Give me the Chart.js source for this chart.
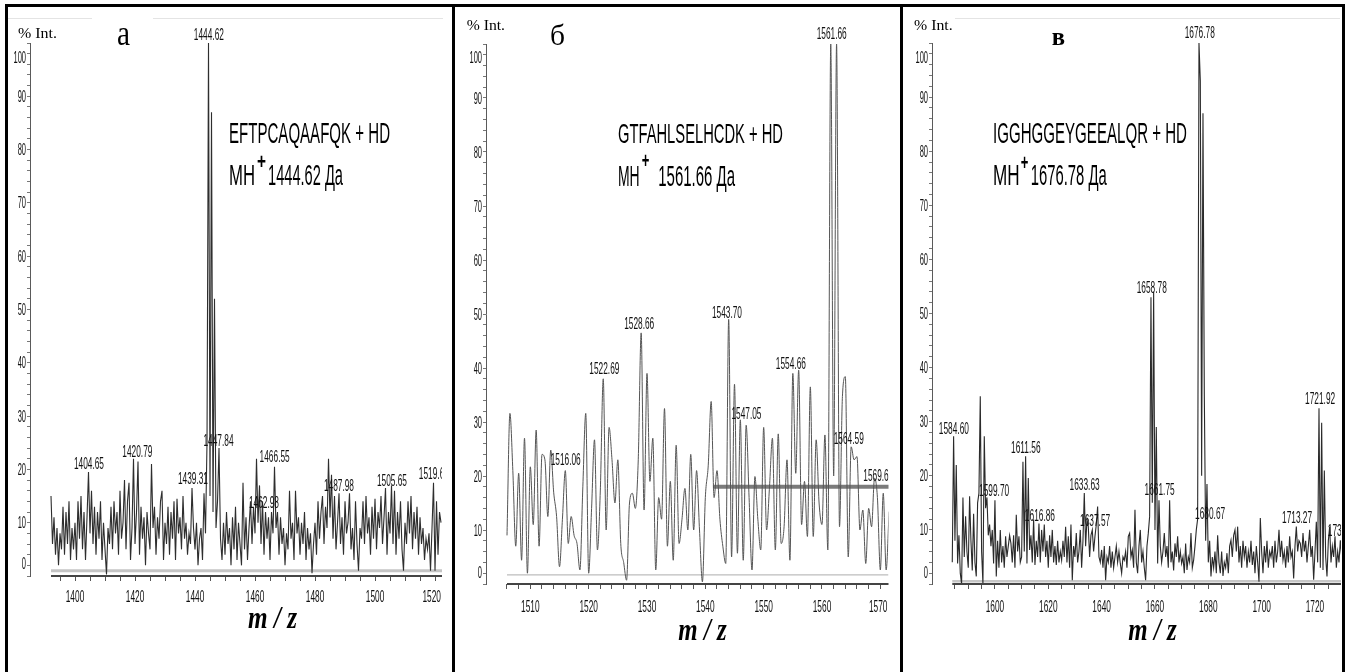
<!DOCTYPE html>
<html lang="ru">
<head>
<meta charset="utf-8">
<title>Масс-спектры пептидов</title>
<script src="https://cdn.jsdelivr.net/npm/chart.js@4.4.1/dist/chart.umd.min.js"></script>
<style>
  body { margin: 0; background: #fff; }
  #wrap { position: relative; width: 1347px; height: 672px; overflow: hidden; background: #fff; }
  .rule { position: absolute; background: #000; }
  .faint { position: absolute; height: 1px; background: #e4e4e4; }
  canvas { position: absolute; }
</style>
</head>
<body>
<div id="wrap">
  <div class="faint" style="left:8px;top:18px;width:84px"></div>
  <div class="faint" style="left:153px;top:18px;width:290px"></div>
  <div class="faint" style="left:955px;top:18px;width:385px"></div>
  <canvas id="panelA" width="442" height="665" style="left:9px;top:7px"></canvas>
  <canvas id="panelB" width="445" height="665" style="left:455px;top:7px"></canvas>
  <canvas id="panelC" width="439" height="665" style="left:903px;top:7px"></canvas>
  <div class="rule" style="left:5px;top:4px;width:1340px;height:3px"></div>
  <div class="rule" style="left:5px;top:4px;width:3px;height:668px"></div>
  <div class="rule" style="left:452px;top:4px;width:3px;height:668px"></div>
  <div class="rule" style="left:900px;top:4px;width:3px;height:668px"></div>
  <div class="rule" style="left:1342px;top:4px;width:3px;height:668px"></div>
</div>
<script>
// ---- panel а: EFTPCAQAAFQK + HD, sampled every 0.5 m/z from 1392 ----
const mzStartA = 1392;
const mzStepA = 0.5;
const intensityA = [
  15, 6, 11, 4, 9, 2, 8, 5, 13, 4,
  12, 6, 14, 3, 9, 5, 10, 3, 14, 7,
  15, 5, 12, 3, 11, 19.5, 8, 16, 6, 13,
  4, 12, 7, 14, 3, 10, 5, 0.3, 9, 6,
  13, 5, 14, 8, 12, 4, 16, 7, 10, 18,
  5, 14, 17.5, 3, 9, 22, 6, 12, 21.5, 4,
  13, 7, 11, 2, 12, 8, 5, 21, 9, 13,
  4, 11, 7, 14, 16, 3, 10, 6, 13, 4,
  12, 7, 14, 3, 14.5, 8, 11, 5, 15, 7,
  10, 4, 8, 6, 16.5, 9, 5, 10, 2, 7,
  9, 3, 15.5, 8, 25, 100, 15, 87, 12, 52,
  9, 14, 24, 7, 3, 10, 4, 12, 6, 9,
  2, 11, 5, 13, 3, 10, 6, 2, 17.5, 5,
  11, 3, 9, 14, 6, 13, 8, 22, 10, 17,
  6, 14, 4, 12, 7, 11, 3, 12, 8, 20.5,
  9, 12, 4, 11, 6, 9, 2, 8, 5, 16,
  7, 10, 3, 16, 8, 11, 4, 10, 6, 12,
  3, 9, 5, 8, 0.5, 6, 10, 4, 14, 7,
  12, 15, 6, 13, 9, 22, 11, 19, 7, 15,
  5, 10, 15.5, 6, 11, 4, 14, 8, 10, 15.5,
  5, 9, 3, 14, 6, 1, 9, 7, 14, 6,
  15, 8, 11, 4, 13, 7, 14.5, 5, 12, 9,
  15, 6, 11, 16.5, 4, 12, 8, 17, 6, 16,
  4, 12, 7, 14, 5, 1, 10, 6, 14, 8,
  15, 5, 12, 7, 13, 4, 11, 6, 9, 3,
  7, 5, 8, 1, 9, 17.5, 1, 14, 4, 12,
  10
];
const peakMzA = [1444.62, 1404.65, 1420.79, 1439.31, 1447.84, 1462.98, 1466.55, 1487.98, 1505.65, 1519.62];
const peakIntA = [100.5, 20.1, 22.3, 17.3, 24.4, 12.8, 21.4, 16.0, 16.9, 18.2];
const xTicksA = [1400, 1420, 1440, 1460, 1480, 1500, 1520];
const baseLevelA = 1.0;

// ---- panel б: GTFAHLSELHCDK + HD, sampled every 0.5 m/z from 1506 ----
const mzStartB = 1506;
const mzStepB = 0.5;
const intensityB = [
  9, 31.6, 21, 7, 20.5, 4.4, 27, 2, 21.7, 11,
  28.5, 7, 24, 23, 12.5, 24.8, 17, 12.5, 3.2, 12,
  21, 7.5, 12.5, 9, 7.5, 2.6, 18, 31.6, 2, 14,
  26.7, 6.3, 17.4, 38, 10, 29, 23, 15, 23, 7.5,
  4, 0.7, 15, 16.8, 14, 23, 46.5, 13.7, 39, 19,
  27, 2.6, 16, 12, 32.5, 7, 19, 4.4, 25.7, 7.5,
  12, 17.7, 10, 24, 10, 21, 10, 0.4, 16, 22,
  33.8, 16, 21, 12, 7, 3.8, 49, 5, 37, 5.7,
  30.4, 4.4, 29.4, 16, 2.6, 19.9, 12, 6.3, 29, 10,
  18, 27, 6.3, 27.8, 7.5, 10.6, 23, 4.4, 39, 20.5,
  39.6, 11, 19, 8.8, 36.5, 8.8, 26.7, 15, 11, 27.6,
  6.3, 100, 20, 100, 10.6, 34.7, 38.4, 5, 25.4, 23,
  23.6, 10, 13.7, 3.8, 14, 10.6, 19.6, 16, 2.6, 16.8,
  2.6, 13.4
];
const peakMzB = [1561.66, 1528.66, 1543.70, 1522.69, 1554.66, 1516.06, 1547.05, 1564.59, 1569.65];
const peakIntB = [100.9, 47.2, 49.3, 38.9, 39.8, 22, 30.5, 25.9, 19.1];
const xTicksB = [1510, 1520, 1530, 1540, 1550, 1560, 1570];
const thresholdMzB = [1541.3, 1571.5];
const thresholdIntB = [18, 18];
const baseLevelB = 1.7;

// ---- panel в: IGGHGGEYGEEALQR + HD, sampled every 0.5 m/z from 1584 ----
const mzStartC = 1584;
const mzStepC = 0.5;
const intensityC = [
  4, 27.3, 8, 22, 3.8, 9, 2, 0, 16, 5,
  12.5, 6, 3, 16.2, 8, 2.5, 13, 4, 1.4, 15,
  16.8, 34.7, 6, 0, 27.3, 14, 16, 9, 11, 7,
  10, 3.8, 15.5, 1.4, 8, 3, 10, 4, 7, 3,
  8.8, 5, 7, 9, 7.5, 4, 9, 3, 12.8, 6,
  8.8, 4, 5, 22.6, 6, 23.6, 3.8, 19.6, 6.3, 9,
  4, 11.9, 3.5, 8, 5, 11.2, 4, 10, 6, 11,
  5, 8, 3, 9, 5, 10, 4, 7, 3.5, 8,
  4, 6, 4.4, 8, 5, 10.6, 4, 8.8, 3, 11,
  0.7, 7, 5, 9.4, 4, 6, 10, 3, 8, 16.8,
  7, 12, 10.6, 5, 9, 10, 6, 8.8, 11, 14.3,
  5, 4, 6.3, 3, 7, 0.7, 5, 4, 7, 3,
  6, 3, 5, 7, 4, 6, 3.8, 2, 5, 4.4,
  6, 3, 8.8, 9.4, 5, 6.3, 3, 13.7, 4, 2,
  7, 10, 4, 6, 3, 0.7, 7, 9.4, 12.5, 53,
  15, 54, 10, 29, 3.8, 15.5, 7, 4, 6, 9.4,
  5, 7, 3, 15.5, 4, 6, 2.5, 7.5, 5, 8.8,
  4, 6, 3.8, 5, 2, 7.5, 2.6, 5, 4, 9.4,
  3, 4.4, 7, 10, 12, 100, 93, 20, 87, 35,
  8, 18.5, 4, 8, 1.4, 5, 3, 6, 2, 9,
  4, 2, 6, 1.5, 4, 3, 5.7, 2, 7, 8.1,
  5, 9, 10, 6, 10.6, 4, 7, 3, 8, 5,
  7, 3, 6, 4, 8, 3.5, 6, 2, 7, 4,
  0.4, 12.2, 6, 2, 7, 4, 8, 3, 6, 5,
  7, 3, 8, 4, 6, 10, 5, 8, 4.4, 6,
  3, 7, 4, 8.8, 5, 6, 1, 7, 10.6, 6,
  8, 7.5, 5, 9.4, 6, 8, 4, 7, 10, 5,
  7, 0.8, 6, 11.5, 4, 32.5, 3, 29.8, 2.6, 21,
  5, 1.4, 8, 10.6, 4, 7, 5, 8.8, 3, 6,
  4, 8.1, 5
];
const peakMzC = [1676.78, 1658.78, 1584.60, 1611.56, 1599.70, 1616.86, 1633.63, 1637.57, 1661.75, 1680.67, 1713.27, 1721.92, 1730.45];
const peakIntC = [100.9, 53.7, 27.8, 24.3, 16.3, 11.7, 17.4, 10.7, 16.5, 12, 11.3, 33.3, 8.9];
const xTicksC = [1600, 1620, 1640, 1660, 1680, 1700, 1720];
const baseLevelC = 0.5;

const yTicks = [0, 10, 20, 30, 40, 50, 60, 70, 80, 90, 100];

const SANS = '"Liberation Sans", Arial, sans-serif';
const SERIF = '"Liberation Serif", "Times New Roman", serif';
const TICK_FONT = '16px ' + SANS;

// the spectra were squeezed horizontally in the source figure, so text is squashed too
function sqText(ctx, txt, x, y, font, sx, align) {
    ctx.save();
    ctx.font = font;
    ctx.textBaseline = 'alphabetic';
    ctx.textAlign = 'left';
    const w = ctx.measureText(txt).width;
    const off = align === 'center' ? -w / 2 : align === 'right' ? -w : 0;
    ctx.translate(x, y);
    ctx.scale(sx, 1);
    ctx.fillText(txt, off, 0);
    ctx.restore();
    return w * sx;
}

function fitText(ctx, txt, x, y, font, width) {
    ctx.save();
    ctx.font = font;
    const w = ctx.measureText(txt).width;
    ctx.restore();
    sqText(ctx, txt, x, y, font, width / w, 'left');
}

function spectrumPlugin(p) {
    return {
        id: 'spectrum' + p.key,
        afterDraw(chart) {
            const ctx = chart.ctx;
            const area = chart.chartArea;
            const xs = chart.scales.x;
            const ys = chart.scales.y;
            ctx.save();

            // x axis line only under the recorded range
            ctx.strokeStyle = '#444';
            ctx.lineWidth = 2;
            ctx.beginPath();
            ctx.moveTo(xs.getPixelForValue(p.mzStart), area.bottom);
            ctx.lineTo(area.right, area.bottom);
            ctx.stroke();

            ctx.fillStyle = '#111';
            p.xTicks.forEach(v => {
                let px = xs.getPixelForValue(v);
                ctx.font = TICK_FONT;
                const half = ctx.measureText(String(v)).width * 0.26;
                if (px + half > area.right) px = area.right - half - 1;
                sqText(ctx, String(v), px, area.bottom + p.xLabelGap, TICK_FONT, 0.52, 'center');
            });
            yTicks.forEach(v => {
                let py = ys.getPixelForValue(v) + 5.5;
                if (v === 100) py += p.yTopShift;
                if (v === 0) py += p.yZeroShift;
                sqText(ctx, String(v), area.left - 4, py, TICK_FONT, 0.47, 'right');
            });

            // peak labels, cut at the right edge like the original
            ctx.save();
            ctx.beginPath();
            ctx.rect(area.left, 0, area.right - area.left, chart.height);
            ctx.clip();
            p.peakMz.forEach((mz, i) => {
                sqText(ctx, mz.toFixed(2), xs.getPixelForValue(mz), ys.getPixelForValue(p.peakInt[i]), TICK_FONT, 0.52, 'center');
            });
            ctx.restore();

            // peptide and mass
            const n = p.note;
            ctx.fillStyle = '#000';
            fitText(ctx, p.peptide, n.x, n.y1, n.size1 + 'px ' + SANS, n.w1);
            fitText(ctx, 'MH', n.x, n.y2, '30px ' + SANS, n.wMH);
            fitText(ctx, '+', n.xPlus, n.yPlus, 'bold 22px ' + SANS, n.wPlus);
            fitText(ctx, p.mass, n.xMass, n.y2, '30px ' + SANS, n.wMass);

            // captions from the document
            fitText(ctx, '% Int.', p.intLabel.x, p.intLabel.y, '15px ' + SERIF, p.intLabel.w);
            fitText(ctx, p.letter, p.letterPos.x, p.letterPos.y, p.letterFont, p.letterPos.w);
            fitText(ctx, 'm / z', p.mzPos.x, p.mzPos.y, 'bold italic 32px ' + SERIF, p.mzPos.w);
            ctx.restore();
        }
    };
}

function buildChart(p) {
    const trace = p.intensity.map((v, i) => ({ x: p.mzStart + i * p.mzStep, y: v }));
    const datasets = [{
        data: trace,
        borderColor: p.traceColor,
        borderWidth: p.traceWidth,
        pointRadius: 0,
        tension: p.smooth ? 0.4 : 0,
        cubicInterpolationMode: p.smooth ? 'monotone' : 'default'
    }];
    if (p.thrMz) {
        datasets.push({
            data: p.thrMz.map((x, i) => ({ x: x, y: p.thrInt[i] })),
            borderColor: '#7b7b7b',
            borderWidth: 4,
            pointRadius: 0
        });
    }
    datasets.push({
        data: [{ x: p.mzStart, y: p.baseLevel }, { x: p.xMax, y: p.baseLevel }],
        borderColor: p.baseColor,
        borderWidth: p.baseWidth,
        pointRadius: 0
    });

    const xTickColor = c => (c.tick && c.tick.value < p.mzStart) ? 'rgba(0,0,0,0)' : '#555';

    return new Chart(document.getElementById(p.canvas), {
        type: 'line',
        data: { datasets: datasets },
        options: {
            responsive: false,
            animation: false,
            events: [],
            devicePixelRatio: 1,
            layout: { padding: { left: 0, right: p.padRight, top: p.padTop, bottom: 0 } },
            plugins: { legend: { display: false }, tooltip: { enabled: false } },
            scales: {
                x: {
                    type: 'linear',
                    min: p.xMin,
                    max: p.xMax,
                    afterFit: s => { s.height = p.xAxisH; },
                    border: { display: false },
                    grid: { drawOnChartArea: false, drawTicks: true, tickLength: 5, color: xTickColor, tickColor: xTickColor },
                    ticks: { stepSize: p.xMinor, autoSkip: false, includeBounds: false, maxRotation: 0, minRotation: 0, font: { size: 6 }, callback: () => '' }
                },
                y: {
                    min: 0,
                    max: 100,
                    afterFit: s => { s.width = p.yAxisW; },
                    border: { display: true, color: '#5a5a5a', width: 1 },
                    grid: { drawOnChartArea: false, drawTicks: true, tickLength: 3, color: '#777', tickColor: '#777' },
                    ticks: { stepSize: 2, autoSkip: false, includeBounds: false, font: { size: 6 }, callback: () => '' }
                }
            }
        },
        plugins: [spectrumPlugin(p)]
    });
}

const panels = [
    {
        key: 'A', canvas: 'panelA',
        mzStart: mzStartA, mzStep: mzStepA, intensity: intensityA,
        peakMz: peakMzA, peakInt: peakIntA, xTicks: xTicksA,
        xMin: 1385, xMax: 1522.33, xMinor: 5,
        yAxisW: 21, padRight: 9, padTop: 36, xAxisH: 96,
        xLabelGap: 26, yTopShift: 14, yZeroShift: -13,
        traceColor: '#2e2e2e', traceWidth: 1.1, smooth: false,
        baseLevel: baseLevelA, baseColor: '#c4c4c4', baseWidth: 3,
        peptide: 'EFTPCAQAAFQK + HD', mass: '1444.62 Да',
        note: { x: 220, y1: 136, size1: 29, w1: 161, y2: 178, wMH: 26, xPlus: 248, yPlus: 162, wPlus: 9, xMass: 259, wMass: 75 },
        intLabel: { x: 9, y: 31, w: 39 },
        letter: 'а', letterFont: '36px ' + SERIF, letterPos: { x: 108, y: 38, w: 13 },
        mzPos: { x: 239, y: 621, w: 49 }
    },
    {
        key: 'B', canvas: 'panelB',
        mzStart: mzStartB, mzStep: mzStepB, intensity: intensityB,
        peakMz: peakMzB, peakInt: peakIntB, xTicks: xTicksB,
        thrMz: thresholdMzB, thrInt: thresholdIntB,
        xMin: 1502.4, xMax: 1571.4, xMinor: 2,
        yAxisW: 31, padRight: 11.5, padTop: 37, xAxisH: 88,
        xLabelGap: 28, yTopShift: 13, yZeroShift: -12,
        traceColor: '#555', traceWidth: 1, smooth: true,
        baseLevel: baseLevelB, baseColor: '#bdbdbd', baseWidth: 1.2,
        peptide: 'GTFAHLSELHCDK + HD', mass: '1561.66 Да',
        note: { x: 163, y1: 136, size1: 28, w1: 165, y2: 179, wMH: 21.7, xPlus: 186.7, yPlus: 161, wPlus: 7.6, xMass: 203.3, wMass: 76.7 },
        intLabel: { x: 11.7, y: 23, w: 38.3 },
        letter: 'б', letterFont: '29px ' + SERIF, letterPos: { x: 95, y: 38, w: 15 },
        mzPos: { x: 223.3, y: 633, w: 48.4 }
    },
    {
        key: 'C', canvas: 'panelC',
        mzStart: mzStartC, mzStep: mzStepC, intensity: intensityC,
        peakMz: peakMzC, peakInt: peakIntC, xTicks: xTicksC,
        xMin: 1576.4, xMax: 1729.75, xMinor: 5,
        yAxisW: 29, padRight: 1, padTop: 36, xAxisH: 88,
        xLabelGap: 28, yTopShift: 14, yZeroShift: -12,
        traceColor: '#2a2a2a', traceWidth: 1.1, smooth: false,
        baseLevel: baseLevelC, baseColor: '#c6c6c6', baseWidth: 2.5,
        peptide: 'IGGHGGEYGEEALQR + HD', mass: '1676.78 Да',
        note: { x: 90, y1: 136, size1: 29, w1: 194, y2: 178, wMH: 26.6, xPlus: 117.7, yPlus: 162.7, wPlus: 7.6, xMass: 127.7, wMass: 76 },
        intLabel: { x: 11, y: 22.5, w: 38.7 },
        letter: 'в', letterFont: 'bold 25px ' + SERIF, letterPos: { x: 148.7, y: 38, w: 13.3 },
        mzPos: { x: 225.3, y: 633, w: 48.4 }
    }
];

panels.forEach(buildChart);
</script>
</body>
</html>
